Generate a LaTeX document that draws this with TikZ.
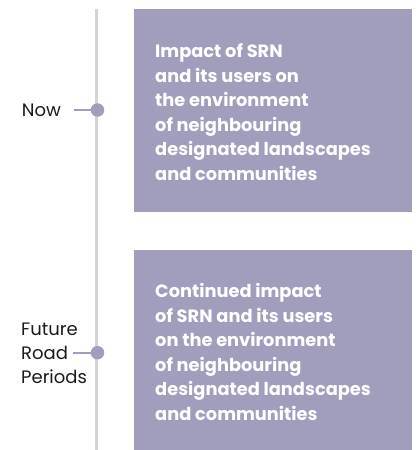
\documentclass[tikz,border=0pt]{standalone}
\usepackage{xcolor}
\usepackage{fontspec}
\setmainfont{Poppins}
\usepackage{tikz}
\usetikzlibrary{positioning}
\definecolor{PeriodLilac}{HTML}{A09DBD}
\definecolor{SpineGrey}{HTML}{D4D4D6}
\definecolor{LabelInk}{HTML}{1A1A1A}
\tikzset{
  boxnode/.style={fill=PeriodLilac,draw=none,inner sep=0pt,
    minimum width=278pt},
  txtnode/.style={anchor=west,align=left,inner sep=0pt,text=white,
    font=\fontsize{17.8}{24.5}\selectfont\bfseries},
  labnode/.style={align=left,inner sep=0pt,text=LabelInk,
    font=\fontsize{18}{24}\selectfont},
  dotnode/.style={circle,fill=PeriodLilac,inner sep=0pt,minimum size=13.5pt},
  spine/.style={line width=3pt,draw=SpineGrey},
  tick/.style={line width=1.6pt,draw=PeriodLilac},
}
\begin{document}
\begin{tikzpicture}[x=1pt,y=-1pt]
  \useasboundingbox (0,0) rectangle (419,450);
  % timeline
  \coordinate (top) at (96.5,9);
  \coordinate (bot) at (96.5,450);
  \draw[spine] (top) -- (bot);
  % period boxes
  \node[boxnode,minimum height=203pt] (box1) at (273,110.5) {};
  \node[boxnode,minimum height=200pt] (box2) at (273,350) {};
  \node[txtnode] (txt1) at (155,112) {Impact of SRN\\and its users on\\the environment\\of neighbouring\\designated landscapes\\and communities};
  \node[txtnode] (txt2) at (155,352) {Continued impact\\of SRN and its users\\on the environment\\of neighbouring\\designated landscapes\\and communities};
  % markers
  \node[dotnode] (dot1) at (97.5,110) {};
  \node[dotnode] (dot2) at (97.5,352.7) {};
  \node[labnode,anchor=east] (now) at (61,110) {Now};
  \node[labnode,anchor=west] (future) at (21,353) {Future\\Road\\Periods};
  \coordinate (tick1) at (74,110);
  \coordinate (tick2) at (73,352.7);
  \draw[tick] (tick1) -- (dot1);
  \draw[tick] (tick2) -- (dot2);
\end{tikzpicture}
\end{document}
